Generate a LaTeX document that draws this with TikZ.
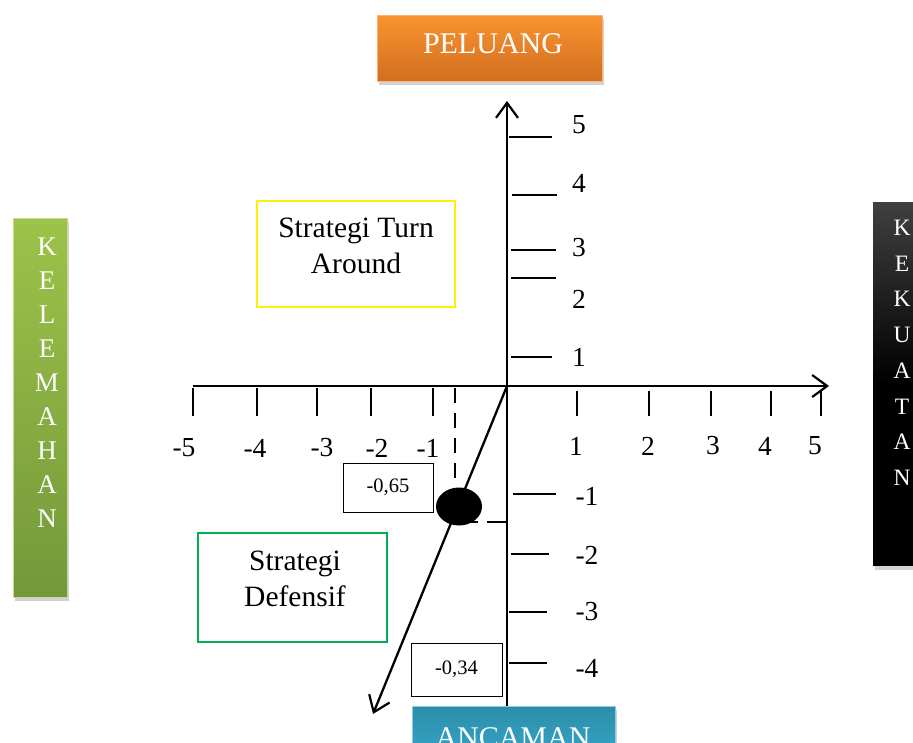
\documentclass[tikz,border=0pt]{standalone}
\usepackage{fontspec}
\setmainfont{Liberation Serif}
\usetikzlibrary{arrows.meta,shadows,shapes.geometric}
\definecolor{orTop}{HTML}{F99431}
\definecolor{orBot}{HTML}{D26E1F}
\definecolor{grTop}{HTML}{9DC34A}
\definecolor{grBot}{HTML}{73983A}
\definecolor{tlTop}{HTML}{2C8DA9}
\definecolor{tlBot}{HTML}{38ACD0}
\definecolor{defGreen}{HTML}{00B050}
\begin{document}
\begin{tikzpicture}[x=1pt,y=-1pt,
  box/.style={rectangle, inner sep=0pt, outer sep=0pt},
  shad/.style={drop shadow={opacity=0.35, shadow xshift=2pt, shadow yshift=-4pt}},
  axis/.style={line width=2.3pt, black},
  tickln/.style={line width=1.8pt, black},
  barb/.style={-{Straight Barb[length=15pt,width=22pt,line width=2.2pt]}},
  num/.style={font=\fontsize{27.5}{30}\selectfont, inner sep=0pt},
  val/.style={draw=black, line width=1pt, rectangle, inner sep=0pt, font=\fontsize{20.5}{22}\selectfont},
  strat/.style={font=\fontsize{29.5}{36}\selectfont, align=center, inner sep=0pt},
  vtext/.style={text=white, align=center, inner sep=0pt, anchor=north}
]
\clip (0,0) rectangle (913,742);
\fill[white] (0,0) rectangle (913,742);

% colored header boxes
\node[box, shad, top color=orTop, bottom color=orBot, draw=orTop!70!white, line width=0.8pt,
      minimum width=225pt, minimum height=66pt] (pel) at (489.5,48) {};
\node[font=\fontsize{30}{32}\selectfont, text=white, anchor=base, inner sep=0pt] (pelT) at (493,53) {PELUANG};

\node[box, shad, top color=grTop, bottom color=grBot, draw=grTop!60!white, line width=0.8pt,
      minimum width=54pt, minimum height=379pt] (kel) at (40,407.5) {};
\node[vtext, font=\fontsize{27}{34}\selectfont] (kelT) at (47,238) {K\\E\\L\\E\\M\\A\\H\\A\\N};

\node[box, shad, top color=black!75, bottom color=black, middle color=black,
      minimum width=60pt, minimum height=363pt] (kek) at (903,384) {};
\node[vtext, font=\fontsize{23.5}{35.7}\selectfont] (kekT) at (902,220) {K\\E\\K\\U\\A\\T\\A\\N};

\node[box, shad, top color=tlTop, bottom color=tlBot, draw=tlBot!60!white, line width=0.8pt,
      minimum width=203pt, minimum height=66pt] (anc) at (513.5,739) {};
\node[font=\fontsize{30}{32}\selectfont, text=white, anchor=base, inner sep=0pt] (ancT) at (513,747) {ANCAMAN};

% strategy boxes
\node[box, draw=yellow, line width=2.2pt, minimum width=198pt, minimum height=106pt] (turn) at (356,254) {};
\node[strat] (turnT) at (356,246) {Strategi Turn\\Around};
\node[box, draw=defGreen, line width=2.2pt, minimum width=189pt, minimum height=109pt] (def) at (292.5,587.5) {};
\node[strat] (defT) at (295,579) {Strategi\\Defensif};

% axes
\coordinate (O) at (507,386);
\coordinate (Ytop) at (507,101);
\coordinate (Ybot) at (507,706);
\coordinate (Xl) at (193,386);
\coordinate (Xr) at (829,386);
\coordinate (Dend) at (373,714);
\draw[axis, barb] (Ybot) -- (Ytop);
\draw[axis, barb] (Xl) -- (Xr);
\draw[axis, barb] (O) -- (Dend);

% x ticks
\foreach \x in {193,257,317,371,433} \draw[tickln] (\x,388) -- (\x,416);
\foreach \x in {577,649,711,771,821} \draw[tickln] (\x,391) -- (\x,416);
\foreach \x/\t [count=\i] in {184/-5,255/-4,322/-3,377/-2,428/-1} \node[num] (xn\i) at (\x,448) {\t};
\foreach \x/\t [count=\i] in {576/1,648/2,713/3,765/4,815/5} \node[num] (xp\i) at (\x,446) {\t};

% y ticks
\foreach \y/\a/\b in {137/509/552,195/512/557,250/511/556,278/511/556,357/511/552,
                     494/513/556,554/511/549,612/509/547,663/509/547}
  \draw[tickln] (\a,\y) -- (\b,\y);
\foreach \y/\t [count=\i] in {125/5,183/4,248/3,299/2,357/1} \node[num] (yp\i) at (579,\y) {\t};
\foreach \y/\t [count=\i] in {496/-1,555/-2,612/-3,668/-4} \node[num] (yn\i) at (587,\y) {\t};

% point marker
\draw[line width=1.8pt, dash pattern=on 15pt off 10pt] (455,388) -- (455,490);
\draw[line width=1.8pt] (470,522) -- (478,522) (487,522) -- (507,522);
\node[fill=black, ellipse, inner sep=0pt, minimum width=46pt, minimum height=38pt] (dot) at (459,506.5) {};

% value boxes
\node[val, minimum width=90pt, minimum height=49pt] (v65) at (388,487.5) {-0,65};
\node[val, minimum width=91pt, minimum height=53pt] (v34) at (456.5,669.5) {-0,34};
\end{tikzpicture}
\end{document}
